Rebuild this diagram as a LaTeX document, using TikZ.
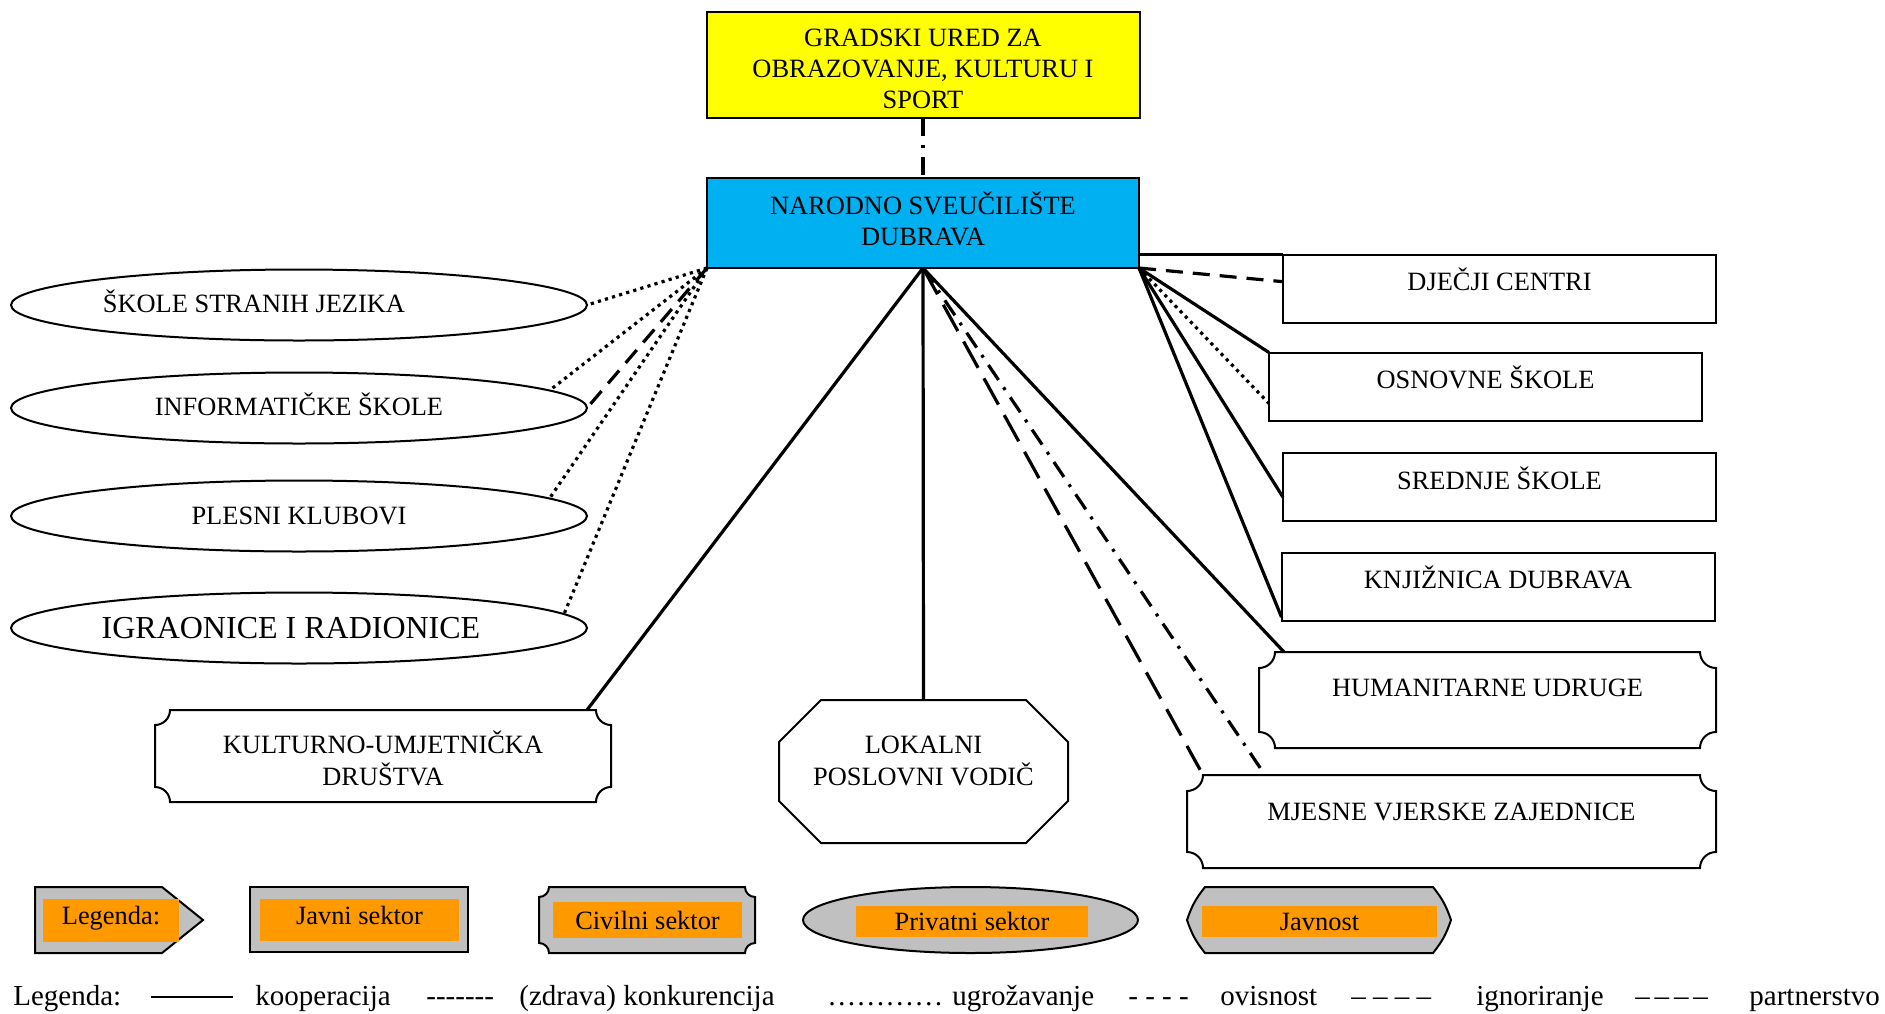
\documentclass[tikz,border=0pt]{standalone}
\usepackage{fontspec}
\setmainfont{Liberation Serif}
\usetikzlibrary{positioning,shapes.geometric,calc}

\definecolor{gradyellow}{RGB}{255,255,0}
\definecolor{nsdblue}{RGB}{0,176,240}
\definecolor{tagorange}{RGB}{255,153,0}
\definecolor{leggray}{RGB}{192,192,192}

\tikzset{
	outline/.style={draw, line width=1pt},
	plain/.style={inner sep=0pt, outer sep=0pt, align=center, font=\fontsize{13.2}{15.5}\selectfont},
	box/.style={plain, outline, minimum width=216.5pt, minimum height=34pt},
	ell/.style={plain, ellipse, outline, minimum width=288pt, minimum height=35.5pt},
	tag/.style={plain, fill=tagorange},
	legtext/.style={anchor=west, inner sep=0pt, font=\fontsize{14.5}{17}\selectfont, text height=10pt, text depth=3pt},
	coop/.style={line width=1.6pt},
	threat/.style={line width=1.6pt, dash pattern=on 1.6pt off 2.1pt},
	depend/.style={line width=1.6pt, dash pattern=on 8.5pt off 5pt},
	ignoring/.style={line width=1.6pt, dash pattern=on 15pt off 6pt},
	partner/.style={line width=1.6pt, dash pattern=on 9pt off 4.5pt on 1.5pt off 4.5pt}
}

% text off the middle of its frame: #1 added above, #2 added below
\newcommand{\textshift}[3]{\raisebox{0pt}[\dimexpr\height+#1\relax][\dimexpr\depth+#2\relax]{#3}}
\newcommand{\liftup}[2]{\textshift{0pt}{#1}{#2}}

% frame with inward round corners round a node
\newcommand{\plaqueframe}[2]{%
	\draw[outline] ($(#1.north west)+(#2,0)$) -- ($(#1.north east)+(-#2,0)$)
		arc[start angle=180,end angle=270,radius=#2]
		-- ($(#1.south east)+(0,#2)$)
		arc[start angle=90,end angle=180,radius=#2]
		-- ($(#1.south west)+(#2,0)$)
		arc[start angle=0,end angle=90,radius=#2]
		-- ($(#1.north west)+(0,-#2)$)
		arc[start angle=270,end angle=360,radius=#2] -- cycle;}

% octagon round a node
\newcommand{\octframe}[2]{%
	\draw[outline] ($(#1.north west)+(#2,0)$) -- ($(#1.north east)+(-#2,0)$)
		-- ($(#1.north east)+(0,-#2)$) -- ($(#1.south east)+(0,#2)$)
		-- ($(#1.south east)+(-#2,0)$) -- ($(#1.south west)+(#2,0)$)
		-- ($(#1.south west)+(0,#2)$) -- ($(#1.north west)+(0,-#2)$) -- cycle;}

\begin{document}
\begin{tikzpicture}[x=0.5pt,y=-0.5pt]
	\useasboundingbox (0,0) rectangle (1885,1013);
	
	% sredina
	\node[plain, outline, fill=gradyellow, minimum width=216.5pt, minimum height=53pt] (grad) at (923,65) {\textshift{6pt}{0pt}{\begin{tabular}{@{}c@{}}GRADSKI URED ZA\\OBRAZOVANJE, KULTURU I\\SPORT\end{tabular}}};
	\node[plain, outline, fill=nsdblue, minimum width=216pt, minimum height=45pt] (nsd) at (923,223) {\begin{tabular}{@{}c@{}}NARODNO SVEUČILIŠTE\\DUBRAVA\end{tabular}};
	
	% lijevo
	\node[ell] (jez) at (299,305) {\liftup{4pt}{ŠKOLE STRANIH JEZIKA\hspace*{45pt}}};
	\node[ell] (inf) at (299,408) {\liftup{4pt}{INFORMATIČKE ŠKOLE}};
	\node[ell] (ples) at (299,516) {PLESNI KLUBOVI};
	\node[ell, font=\fontsize{16}{19}\selectfont] (igr) at (299,628) {IGRAONICE I RADIONICE\hspace*{8pt}};
	
	% desno
	\node[box] (djec) at (1499.5,288.5) {\liftup{9pt}{DJEČJI CENTRI}};
	\node[box] (osn) at (1485.5,386.5) {\liftup{9pt}{OSNOVNE ŠKOLE}};
	\node[box] (sred) at (1499.5,487) {\liftup{9pt}{SREDNJE ŠKOLE}};
	\node[box] (knj) at (1498,586.5) {\liftup{9pt}{KNJIŽNICA DUBRAVA}};
	\node[plain, minimum width=228.5pt, minimum height=48pt] (hum) at (1487.5,700) {\liftup{12pt}{HUMANITARNE UDRUGE}};
	\plaqueframe{hum}{8pt}
	\node[plain, minimum width=264.5pt, minimum height=46.5pt] (mje) at (1451.5,821.5) {\liftup{10pt}{MJESNE VJERSKE ZAJEDNICE}};
	\plaqueframe{mje}{8pt}
	
	% dolje
	\node[plain, minimum width=228pt, minimum height=46pt] (kud) at (383,756) {\textshift{7.2pt}{0pt}{\begin{tabular}{@{}c@{}}KULTURNO-UMJETNIČKA\\DRUŠTVA\end{tabular}}};
	\plaqueframe{kud}{7.5pt}
	\node[plain, minimum width=144.5pt, minimum height=71.5pt] (lok) at (923.5,771.5) {\liftup{8.4pt}{\begin{tabular}{@{}c@{}}LOKALNI\\POSLOVNI VODIČ\end{tabular}}};
	\octframe{lok}{21pt}
	
	% veze
	\draw[partner] (grad.south) -- (nsd.north);
	\draw[threat] (nsd.south west) -- (jez.east);
	\draw[threat] (nsd.south west) -- (inf.4);
	\draw[depend] (nsd.south west) -- (inf.east);
	\draw[threat] (nsd.south west) -- (ples.4);
	\draw[threat] (nsd.south west) -- (igr.3);
	
	\draw[coop] (nsd.south east |- djec.north west) -- (djec.north west);
	\draw[depend] (nsd.south east) -- ($(djec.north west)!0.4!(djec.south west)$);
	\draw[coop] (nsd.south east) -- (osn.north west);
	\draw[threat] (nsd.south east) -- ($(osn.north west)!0.75!(osn.south west)$);
	\draw[coop] (nsd.south east) -- ($(sred.north west)!0.65!(sred.south west)$);
	\draw[coop] (nsd.south east) -- ($(knj.north west)!0.95!(knj.south west)$);
	
	\draw[coop] (nsd.south) -- ($(kud.north east)+(-12pt,0)$);
	\draw[coop] (nsd.south) -- (lok.north);
	\draw[ignoring, shorten >=3pt] (nsd.south) -- ($(mje.north west)+(8pt,0)$);
	\draw[partner, shorten >=3pt] (nsd.south) -- ($(mje.north west)+(39pt,0)$);
	\draw[coop] (nsd.south) -- ($(hum.north west)+(12.5pt,0)$);
	
	% legenda
	\filldraw[outline, fill=leggray] (35,887) -- (162,887) -- (203,920) -- (162,953) -- (35,953) -- cycle;
	\node[tag, minimum width=68pt, minimum height=21.5pt] (tlegenda) at (111,920.5) {\liftup{2pt}{Legenda:}};
	\filldraw[outline, fill=leggray] (250,887) rectangle (468,952);
	\node[tag, minimum width=99.5pt, minimum height=21pt] (tjavni) at (359.5,920) {\liftup{5pt}{Javni sektor}};
	\filldraw[outline, fill=leggray] (549,887) -- (745,887) arc[start angle=180,end angle=270,radius=5pt]
		-- (755,943) arc[start angle=90,end angle=180,radius=5pt]
		-- (549,953) arc[start angle=0,end angle=90,radius=5pt]
		-- (539,897) arc[start angle=270,end angle=360,radius=5pt] -- cycle;
	\node[tag, minimum width=94.5pt, minimum height=18pt] (tcivilni) at (647.5,920) {Civilni sektor};
	\filldraw[outline, fill=leggray] (970.5,920) ellipse [x radius=167.5, y radius=33];
	\node[tag, minimum width=116pt, minimum height=15.5pt] (tprivatni) at (972,921.5) {Privatni sektor};
	\filldraw[outline, fill=leggray] (1205,887) -- (1433,887) to[bend left=10] (1451,920) to[bend left=10] (1433,953)
		-- (1205,953) to[bend left=10] (1187,920) to[bend left=10] (1205,887) -- cycle;
	\node[tag, minimum width=117.5pt, minimum height=15.5pt] (tjavnost) at (1319.5,921.5) {Javnost};
	
	\draw[line width=1pt] (151,997) -- (233,997);
	\foreach \x/\t in {13/Legenda:, 255/kooperacija, 426/{-{}-{}-{}-{}-{}-{}-}, 519/{(zdrava) konkurencija}, 827/…………, 952/ugrožavanje, 1128/{- - - -}, 1220/ovisnost, 1351/{– – – –}, 1476/ignoriranje, 1635/{–\,–\,–\,–}, 1749/partnerstvo}
		\node[legtext] (leg\x) at (\x,998) {\t};
	
\end{tikzpicture}
\end{document}
